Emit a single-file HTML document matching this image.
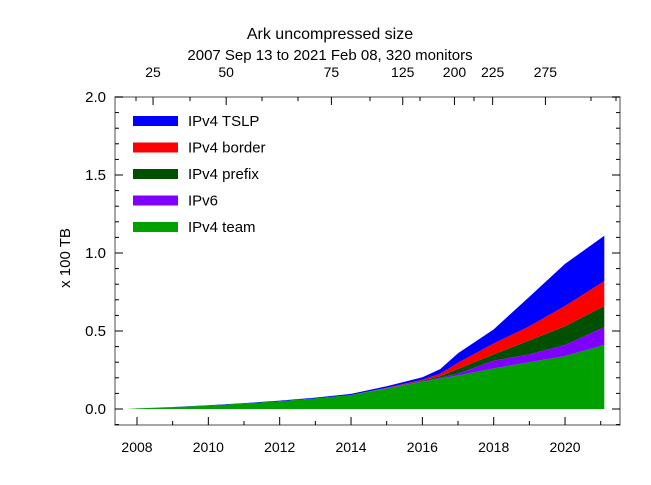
<!DOCTYPE html>
<html><head><meta charset="utf-8"><style>
html,body{margin:0;padding:0;background:#fff;}
svg text{font-family:"Liberation Sans",sans-serif;fill:#000;}
</style></head><body>
<svg id="chart" width="651" height="480" viewBox="0 0 651 480" xmlns="http://www.w3.org/2000/svg">
<text x="330" y="39" font-size="16" text-anchor="middle">Ark uncompressed size</text>
<text x="330" y="60" font-size="15" text-anchor="middle">2007 Sep 13 to 2021 Feb 08, 320 monitors</text>
<text transform="translate(70,258) rotate(-90)" font-size="15" text-anchor="middle">x 100 TB</text>
<g id="areas"></g>
<g id="axes"></g>
<g id="legend"></g>
</svg>
<script>
const years = [2007.7,2008,2009,2010,2011,2012,2013,2014,2015,2016,2016.5,2017,2018,2019,2020,2021.1];
const ipv4Team = [0,0.004,0.012,0.022,0.035,0.05,0.068,0.09,0.13,0.175,0.195,0.215,0.26,0.30,0.34,0.41];
const ipv6 = [0,0,0,0,0,0,0,0,0.002,0.003,0.006,0.012,0.05,0.05,0.07,0.115];
const ipv4Prefix = [0,0,0,0,0,0,0,0,0.002,0.005,0.01,0.03,0.04,0.09,0.12,0.135];
const ipv4Border = [0,0,0,0,0,0,0,0,0.002,0.005,0.015,0.04,0.07,0.09,0.13,0.16];
const ipv4Tslp = [0,0,0.001,0.002,0.003,0.004,0.005,0.007,0.01,0.015,0.03,0.06,0.09,0.19,0.27,0.29];
const yTicks = [0.0,0.5,1.0,1.5,2.0];
const yTickLabels = ["0.0","0.5","1.0","1.5","2.0"];
const xTicks = [2008,2010,2012,2014,2016,2018,2020];
const topTickLabels = ["25","50","75","125","200","225","275"];
const topTickYears = [2008.45,2010.5,2013.45,2015.45,2016.9,2017.97,2019.45];

const NS="http://www.w3.org/2000/svg";
const L=115,R=620,T=97,B=425;
function xs(y){return 137+(y-2008)*35.67;}
function ys(v){return 409-v*156;}
function mk(tag,attrs,parent){const e=document.createElementNS(NS,tag);for(const k in attrs)e.setAttribute(k,attrs[k]);parent.appendChild(e);return e;}

const series=[
 {name:"IPv4 team",vals:ipv4Team,color:"#00a000"},
 {name:"IPv6",vals:ipv6,color:"#8000ff"},
 {name:"IPv4 prefix",vals:ipv4Prefix,color:"#005000"},
 {name:"IPv4 border",vals:ipv4Border,color:"#ff0000"},
 {name:"IPv4 TSLP",vals:ipv4Tslp,color:"#0000ff"}
];
const areas=document.getElementById('areas');
let base=years.map(()=>0);
series.forEach(s=>{
  const top=base.map((b,i)=>b+s.vals[i]);
  let d="";
  years.forEach((y,i)=>{d+=(i?"L":"M")+xs(y).toFixed(1)+","+ys(top[i]).toFixed(1);});
  for(let i=years.length-1;i>=0;i--)d+="L"+xs(years[i]).toFixed(1)+","+ys(base[i]).toFixed(1);
  const p=mk('path',{d:d+"Z",fill:s.color,stroke:"none"},areas);
  
  
  base=top;
});

const ax=document.getElementById('axes');
const frame=mk('rect',{x:L,y:T,width:R-L,height:B-T,fill:"none",stroke:"#888","stroke-width":1.5},ax);


yTicks.forEach((v,i)=>{
  mk('line',{x1:L,x2:L+8,y1:ys(v),y2:ys(v),stroke:"#000"},ax);
  mk('line',{x1:R,x2:R-8,y1:ys(v),y2:ys(v),stroke:"#000"},ax);
  const t=mk('text',{x:L-9,y:ys(v)+5,"font-size":15,"text-anchor":"end"},ax);
  t.textContent=yTickLabels[i];
  
  
});
for(let v=-0.1;v<2.0;v+=0.1){mk('line',{x1:L,x2:L+4,y1:ys(v),y2:ys(v),stroke:"#000"},ax);mk('line',{x1:R,x2:R-4,y1:ys(v),y2:ys(v),stroke:"#000"},ax);}
xTicks.forEach(y=>{
  mk('line',{x1:xs(y),x2:xs(y),y1:B,y2:B-8,stroke:"#000"},ax);
  const t=mk('text',{x:xs(y),y:B+27,"font-size":14,"text-anchor":"middle"},ax);
  t.textContent=String(y);
  
  
});
for(let y=2009;y<=2021;y+=2)mk('line',{x1:xs(y),x2:xs(y),y1:B,y2:B-4,stroke:"#000"},ax);
topTickYears.forEach((y,i)=>{
  mk('line',{x1:xs(y),x2:xs(y),y1:T,y2:T+8,stroke:"#000"},ax);
  const t=mk('text',{x:xs(y),y:T-20,"font-size":14,"text-anchor":"middle"},ax);
  t.textContent=topTickLabels[i];
  
  
});
[136,190,262,298,370,420,474,591,616].forEach(x=>mk('line',{x1:x,x2:x,y1:T,y2:T+4,stroke:"#000"},ax));

const lg=document.getElementById('legend');
const order=[4,3,2,1,0];
order.forEach((si,k)=>{
  const s=series[si];const y=121+k*26.5;
  const r=mk('rect',{x:133,y:y-5,width:45,height:10,fill:s.color},lg);
  
  
  const t=mk('text',{x:188,y:y+5,"font-size":15},lg);
  t.textContent=s.name;
  
  
});
</script>
</body></html>
